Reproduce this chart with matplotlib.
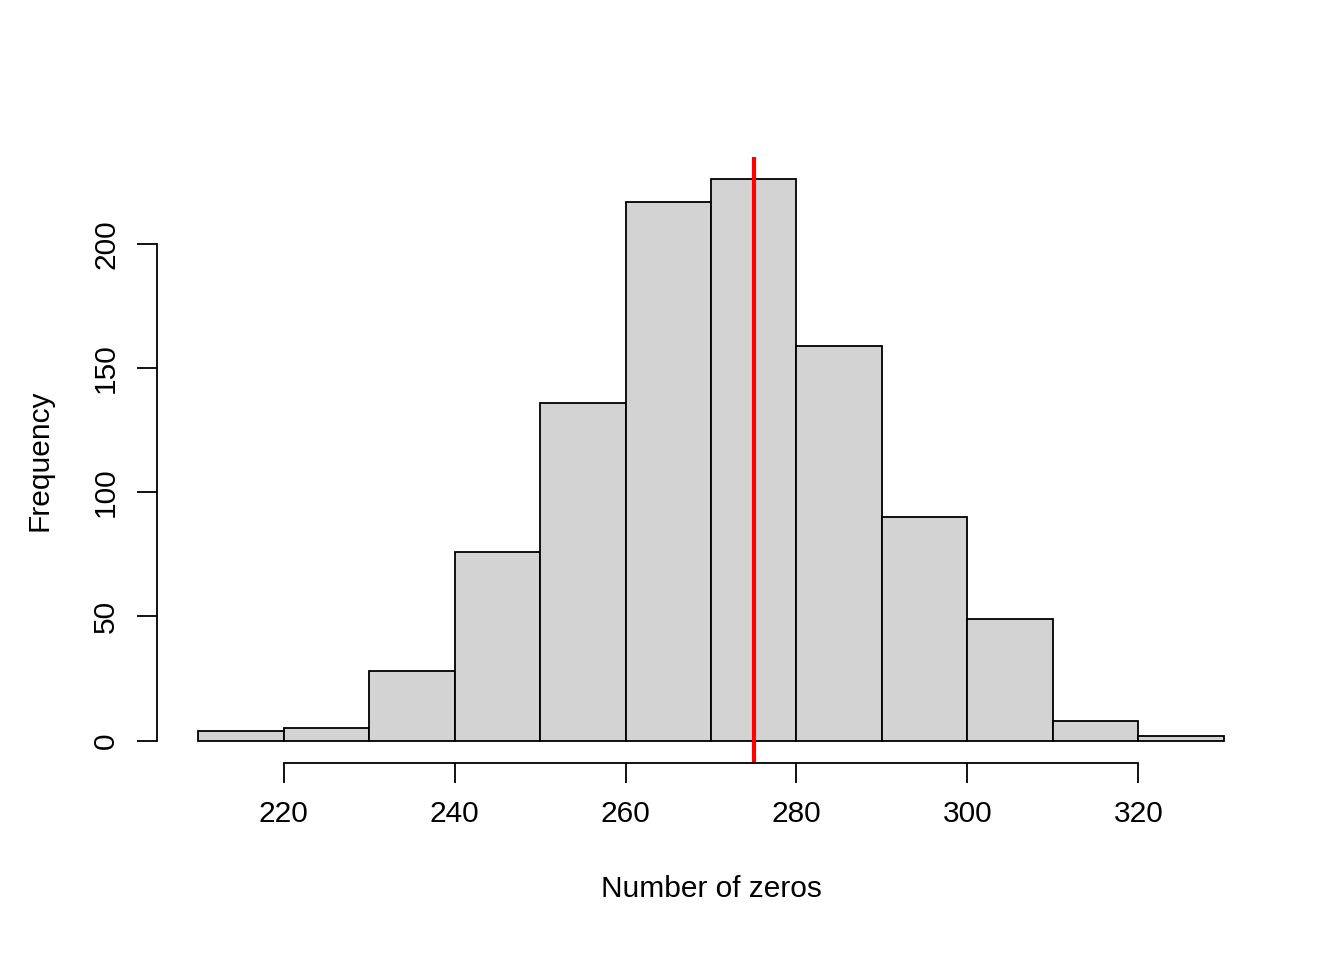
import matplotlib
matplotlib.use('Agg')
import matplotlib.pyplot as plt

plt.rcParams['font.family'] = ['Liberation Sans', 'DejaVu Sans']

bin_edges = [210, 220, 230, 240, 250, 260, 270, 280, 290, 300, 310, 320, 330]
counts = [4, 5, 28, 76, 136, 217, 226, 159, 90, 49, 8, 2]
mark_x = 275
x_ticks = [220, 240, 260, 280, 300, 320]
y_ticks = [0, 50, 100, 150, 200]

fig = plt.figure(figsize=(13.44, 9.6), dpi=100)
ax = fig.add_axes([157/1344, 1-763/960, (1265-157)/1344, (763-157)/960])

lefts = bin_edges[:-1]
widths = [b - a for a, b in zip(bin_edges[:-1], bin_edges[1:])]
ax.bar(lefts, counts, width=widths, align='edge', color='#d3d3d3',
       edgecolor='black', linewidth=1.3)
ax.axvline(mark_x, color='red', linewidth=3)

span = bin_edges[-1] - bin_edges[0]
ax.set_xlim(bin_edges[0] - 0.04*span, bin_edges[-1] + 0.04*span)
top = max(counts)
ax.set_ylim(-0.04*top, top*1.04)

for s in ['top', 'right']:
    ax.spines[s].set_visible(False)
ax.spines['left'].set_bounds(0, 200)
ax.spines['bottom'].set_bounds(220, 320)
ax.spines['left'].set_linewidth(1.3)
ax.spines['bottom'].set_linewidth(1.3)

ax.set_xticks(x_ticks)
ax.set_yticks(y_ticks)
ax.tick_params(axis='both', length=14.5, width=1.3, labelsize=21.5, pad=12)
for lab in ax.get_yticklabels():
    lab.set_rotation(90)
    lab.set_va('center')

ax.set_xlabel('Number of zeros', fontsize=21.5, labelpad=34)
ax.set_ylabel('Frequency', fontsize=21.5, labelpad=28)

fig.savefig('out.png', dpi=100)
